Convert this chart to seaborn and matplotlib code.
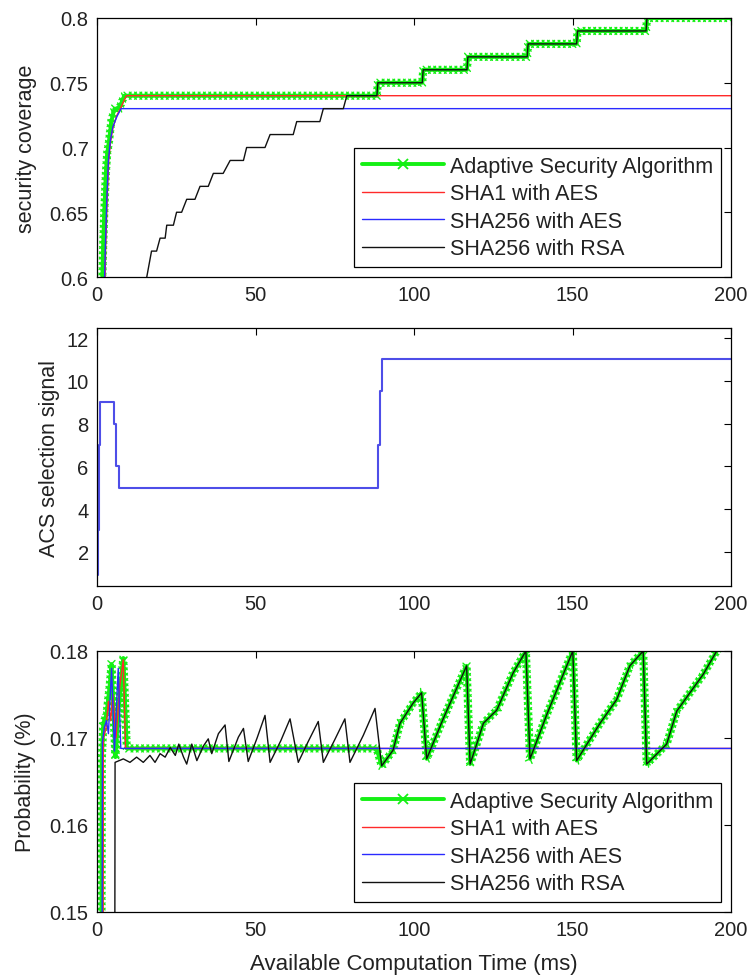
import numpy as np
import pandas as pd
import matplotlib
matplotlib.use("Agg")
import matplotlib.pyplot as plt
import seaborn as sns
from matplotlib.lines import Line2D
from matplotlib import patheffects as pe

# ---------------- data ----------------
labels = ["Adaptive Security Algorithm", "SHA1 with AES", "SHA256 with AES", "SHA256 with RSA"]
x_ticks = [0, 50, 100, 150, 200]

# Panel 1: security coverage
cov_asa_t = [1.6, 1.9, 2.3, 2.8, 3.2, 3.8, 4.5, 5.5, 7.0, 7.8, 8.6]
cov_asa_v = [0.59, 0.62, 0.65, 0.68, 0.695, 0.705, 0.72, 0.73, 0.73, 0.735, 0.74]
cov_tail_t = [88.3, 88.6, 102.6, 102.9, 116.7, 117.0, 135.7, 136.0, 151.3, 151.6, 173.2, 173.5, 200.0]
cov_tail_v = [0.74, 0.75, 0.75, 0.76, 0.76, 0.77, 0.77, 0.78, 0.78, 0.79, 0.79, 0.80, 0.80]
cov_sha1_t = [2.5, 2.7, 3.2, 3.7, 4.3, 5.1, 6.3, 7.4, 8.3, 9.3, 200.0]
cov_sha1_v = [0.59, 0.62, 0.66, 0.69, 0.705, 0.716, 0.725, 0.73, 0.735, 0.74, 0.74]
cov_aes_t = [2.3, 2.6, 3.1, 3.6, 4.2, 5.0, 6.3, 7.6, 200.0]
cov_aes_v = [0.59, 0.62, 0.66, 0.69, 0.705, 0.716, 0.724, 0.73, 0.73]
cov_rsa_t = [14.9, 15.7, 17.2, 18.8, 19.9, 21.5, 22.0, 24.1, 25.1, 26.7, 28.3, 30.9, 32.5,
             35.1, 36.7, 39.8, 42.0, 46.2, 47.2, 53.0, 54.6, 61.9, 63.0, 70.3, 71.4, 77.7, 78.8]
cov_rsa_v = [0.59, 0.60, 0.62, 0.62, 0.63, 0.63, 0.64, 0.64, 0.65, 0.65, 0.66, 0.66, 0.67,
             0.67, 0.68, 0.68, 0.69, 0.69, 0.70, 0.70, 0.71, 0.71, 0.72, 0.72, 0.73, 0.73, 0.74]
cov_yticks = [0.6, 0.65, 0.7, 0.75, 0.8]
cov_yticklabels = ["0.6", "0.65", "0.7", "0.75", "0.8"]

# Panel 2: ACS selection signal
acs_t = [0.0, 0.2, 0.5, 1.0, 5.4, 6.0, 6.8, 88.6, 89.2, 90.0, 200.0]
acs_v = [0.9, 3.0, 7.0, 9.0, 8.0, 6.0, 5.0, 7.0, 9.5, 11.0, 11.0]
acs_yticks = [2, 4, 6, 8, 10, 12]

# Panel 3: probability
prob_asa_t = [1.4, 1.5, 2.0, 3.0, 4.0, 4.6, 5.8, 6.5, 7.3, 8.3, 9.4, 88.2]
prob_asa_v = [0.14, 0.1674, 0.1717, 0.1727, 0.1760, 0.1785, 0.1678, 0.1720, 0.1755, 0.1792, 0.1688, 0.1688]
saw_t = [89.8, 93.4, 95.6, 99.7, 102.4, 104.0, 109.2, 116.6, 117.7, 119.5, 121.9, 126.1, 131.3,
         135.3, 136.6, 142.0, 150.1, 151.3, 158.7, 163.9, 168.1, 172.3, 173.4, 179.7, 182.9,
         191.2, 195.5, 198.0]
saw_v = [0.1668, 0.1686, 0.1717, 0.1740, 0.1752, 0.1676, 0.1722, 0.1783, 0.1670, 0.1690, 0.1717,
         0.1732, 0.1775, 0.1800, 0.1676, 0.1728, 0.1800, 0.1674, 0.1717, 0.1744, 0.1783, 0.1800,
         0.1670, 0.1693, 0.1731, 0.1773, 0.1800, 0.1812]
prob_sha1_t = [1.9, 2.0, 2.8, 3.6, 4.3, 5.0, 6.0, 7.2, 8.3, 9.0, 200.0]
prob_sha1_v = [0.14, 0.1700, 0.1710, 0.1742, 0.1720, 0.1750, 0.1700, 0.1760, 0.1790, 0.1688, 0.1688]
prob_aes_t = [1.6, 1.7, 2.3, 3.0, 3.6, 4.6, 5.5, 6.7, 7.5, 200.0]
prob_aes_v = [0.14, 0.1695, 0.1712, 0.1720, 0.1705, 0.1780, 0.1685, 0.1780, 0.1688, 0.1688]
prob_rsa_t = [5.6, 5.7, 8.3, 10.4, 12.5, 14.6, 16.7, 18.3, 19.9, 21.5, 23.1, 24.7, 25.8, 27.3,
              28.3, 29.9, 31.5, 33.6, 35.1, 36.2, 38.3, 40.4, 41.6, 44.6, 46.2, 47.7, 50.5,
              53.0, 54.6, 58.0, 60.9, 63.5, 66.5, 69.8, 71.4, 75.0, 78.2, 79.8, 84.0, 87.7]
prob_rsa_v = [0.14, 0.1672, 0.1676, 0.1672, 0.1678, 0.1672, 0.1680, 0.1672, 0.1682, 0.1678,
              0.1689, 0.1680, 0.1693, 0.1678, 0.1670, 0.1693, 0.1674, 0.1691, 0.1699, 0.1682,
              0.1705, 0.1715, 0.1673, 0.1701, 0.1711, 0.1673, 0.1700, 0.1726, 0.1672, 0.1697,
              0.1722, 0.1672, 0.1695, 0.1719, 0.1672, 0.1698, 0.1722, 0.1672, 0.1703, 0.1734]
prob_yticks = [0.15, 0.16, 0.17, 0.18]
prob_yticklabels = ["0.15", "0.16", "0.17", "0.18"]

# ---------------- style ----------------
sns.set_theme(style="white")
plt.rcParams["font.family"] = ["Liberation Sans", "DejaVu Sans"]
plt.rcParams["axes.edgecolor"] = "black"
plt.rcParams["axes.linewidth"] = 0.9

GREEN = "#14f014"
RED = "#ff2a2a"
BLUE = "#2a2aff"
BLUE2 = "#4e4ee8"
BLACK = "#111111"
TXT = "#222222"


def xmarks(spacing=3.8, arm=3.6, lw=1.0):
    L = arm / spacing
    return [pe.Normal()] + [pe.TickedStroke(spacing=spacing, angle=a, length=L,
                                            linewidth=lw, foreground=GREEN)
            for a in (45, 135, -45, -135)]


def line(ax, t, v, color, lw, **kw):
    df = pd.DataFrame({"t": t, "v": v})
    sns.lineplot(data=df, x="t", y="v", ax=ax, color=color, lw=lw,
                 estimator=None, sort=False, legend=False, **kw)


def style_axes(ax):
    ax.set_xlim(0, 200)
    ax.set_xticks(x_ticks)
    ax.set_xticklabels([str(x) for x in x_ticks])
    ax.tick_params(direction="in", top=True, right=True, length=5, width=0.8,
                   labelsize=14.5, colors="black", labelcolor=TXT, pad=6)
    for s in ax.spines.values():
        s.set_color("black")
        s.set_linewidth(0.9)
    ax.set_xlabel("")
    ax.set_ylabel("")


def legend(ax):
    h = [Line2D([], [], color=GREEN, lw=2.8, marker="x", ms=7, mew=1.3),
         Line2D([], [], color=RED, lw=1.0),
         Line2D([], [], color=BLUE, lw=1.0),
         Line2D([], [], color=BLACK, lw=1.0)]
    lg = ax.legend(h, labels, loc="lower right", numpoints=1, fancybox=False,
                   edgecolor="black", framealpha=1, fontsize=15.5, handlelength=3.8,
                   handletextpad=0.3, borderpad=0.38, labelspacing=0.3,
                   borderaxespad=0.45)
    lg.get_frame().set_linewidth(0.9)
    for t in lg.get_texts():
        t.set_color(TXT)


fig = plt.figure(figsize=(7.51, 9.78), dpi=100)
fig.patch.set_facecolor("white")
L0, W0 = 97 / 751, 634 / 751
ax1 = fig.add_axes([L0, 1 - 278 / 978, W0, 259 / 978])
ax2 = fig.add_axes([L0, 1 - 587 / 978, W0, 258 / 978])
ax3 = fig.add_axes([L0, 1 - 913 / 978, W0, 261 / 978])

# ---- panel 1 ----
line(ax1, cov_asa_t + cov_tail_t, cov_asa_v + cov_tail_v, GREEN, 2.8, path_effects=xmarks())
line(ax1, cov_sha1_t, cov_sha1_v, RED, 1.0)
line(ax1, cov_aes_t, cov_aes_v, BLUE, 1.0)
line(ax1, cov_rsa_t + cov_tail_t, cov_rsa_v + cov_tail_v, BLACK, 1.0)
style_axes(ax1)
ax1.set_ylim(0.6, 0.8)
ax1.set_yticks(cov_yticks)
ax1.set_yticklabels(cov_yticklabels)
ax1.set_ylabel("security coverage", fontsize=15.5, color=TXT)
ax1.yaxis.set_label_coords(-0.094, 0.5)
legend(ax1)

# ---- panel 2 ----
line(ax2, acs_t, acs_v, BLUE2, 1.5, drawstyle="steps-post")
style_axes(ax2)
ax2.set_ylim(0.4, 12.47)
ax2.set_yticks(acs_yticks)
ax2.set_yticklabels([str(v) for v in acs_yticks])
ax2.set_ylabel("ACS selection signal", fontsize=15.5, color=TXT)
ax2.yaxis.set_label_coords(-0.058, 0.5)

# ---- panel 3 ----
line(ax3, prob_asa_t + saw_t, prob_asa_v + saw_v, GREEN, 2.8, path_effects=xmarks())
line(ax3, prob_sha1_t, prob_sha1_v, RED, 1.0)
line(ax3, prob_aes_t, prob_aes_v, BLUE, 1.0)
line(ax3, prob_rsa_t + saw_t, prob_rsa_v + saw_v, BLACK, 1.0)
style_axes(ax3)
ax3.set_ylim(0.15, 0.18)
ax3.set_yticks(prob_yticks)
ax3.set_yticklabels(prob_yticklabels)
ax3.set_ylabel("Probability (%)", fontsize=15.5, color=TXT)
ax3.yaxis.set_label_coords(-0.096, 0.5)
ax3.set_xlabel("Available Computation Time (ms)", fontsize=16, color=TXT)
ax3.xaxis.set_label_coords(0.5, -0.158)
legend(ax3)

fig.savefig("out.png", dpi=100, facecolor="white")
